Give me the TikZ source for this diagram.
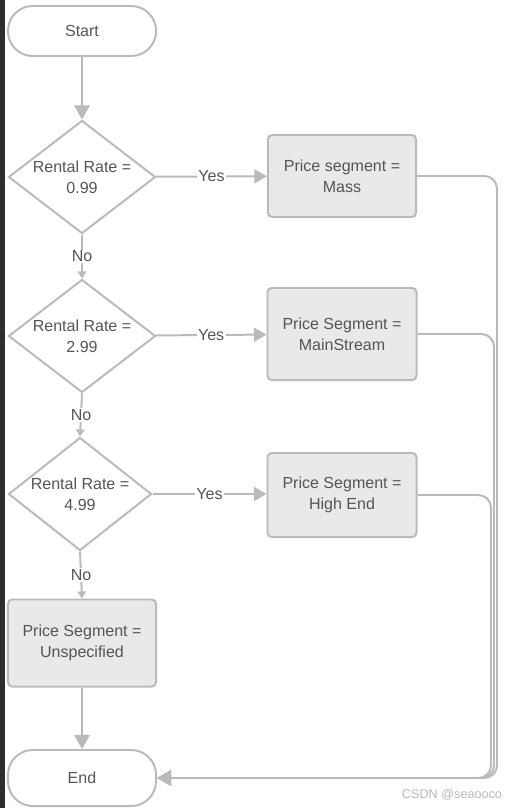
\documentclass[tikz,border=0pt]{standalone}
\usepackage{fontspec}
\setmainfont{Liberation Sans}
\usetikzlibrary{shapes.geometric,arrows.meta,positioning}

\begin{document}
\begin{tikzpicture}[x=0.025cm,y=-0.025cm,
    font=\fontsize{11.4}{15}\selectfont,
    line/.style={draw=lineGray,line width=1.4pt},
    terminal/.style={line,rounded corners=0.62cm,fill=white,minimum width=3.7cm,text=textGray},
    decision/.style={line,diamond,aspect=1.3,inner sep=0pt,minimum width=3.675cm,minimum height=2.825cm,align=center,text=textGray,fill=white},
    process/.style={line,rounded corners=3pt,fill=boxGray,minimum width=3.7cm,align=center,text=textGray},
    flow/.style={line,-{Triangle[width=11pt,length=10pt]}},
    yesflow/.style={line,-{Triangle[width=10pt,length=9pt]}},
    noflow/.style={line,-{Triangle[width=6pt,length=5pt]}},
    answer/.style={fill=white,inner sep=1pt,text=textGray}]
    \definecolor{lineGray}{RGB}{186,186,186}
    \definecolor{boxGray}{RGB}{233,233,233}
    \definecolor{textGray}{RGB}{85,85,85}
    \definecolor{edgeDark}{RGB}{46,46,46}
    \useasboundingbox (0,0) rectangle (513,808);
    \fill[white] (0,0) rectangle (513,808);
    \fill[edgeDark] (0,0) rectangle (5,808);

    \node[terminal,minimum height=1.25cm] (start) at (82,31) {Start};
    \node[decision] (rate_a) at (82,177) {Rental Rate =\\0.99};
    \node[decision] (rate_b) at (82,336) {Rental Rate =\\2.99};
    \node[decision,minimum width=3.575cm] (rate_c) at (80,494) {Rental Rate =\\4.99};
    \node[process,minimum height=2.05cm] (seg_mass) at (342,176) {Price segment =\\Mass};
    \node[process,minimum width=3.725cm,minimum height=2.3cm] (seg_main) at (342,334) {Price Segment =\\MainStream};
    \node[process,minimum width=3.725cm,minimum height=2.1cm] (seg_high) at (342,495) {Price Segment =\\High End};
    \node[process,minimum height=2.175cm] (seg_none) at (82,643) {Price Segment =\\Unspecified};
    \node[terminal,minimum height=1.4cm] (stop) at (82,778) {End};

    \coordinate (rail_a) at (497,0);
    \coordinate (rail_b) at (494,0);
    \coordinate (rail_c) at (491,0);

    \draw[flow] (start) -- (rate_a);
    \draw[yesflow] (rate_a) -- node[answer] {Yes} (seg_mass);
    \draw[yesflow] (rate_b) -- node[answer] {Yes} (seg_main);
    \draw[yesflow] (rate_c.east) -- node[answer] {Yes} (seg_high.west |- rate_c.east);
    \draw[noflow] (rate_a) -- node[answer] {No} (rate_b);
    \draw[noflow] (rate_b.south) -- node[answer] {No} (rate_c.north);
    \draw[noflow] (rate_c.south) -- node[answer] {No} (seg_none.north);
    \draw[flow] (seg_none) -- (stop);

    % return lines to End
    \draw[flow,rounded corners=9pt] (seg_mass.east) -- (seg_mass.east -| rail_a) -- (stop.east -| rail_a) -- (stop.east);
    \draw[flow,rounded corners=9pt] (seg_main.east) -- (seg_main.east -| rail_b) -- (stop.east -| rail_b) -- (stop.east);
    \draw[flow,rounded corners=9pt] (seg_high.east) -- (seg_high.east -| rail_c) -- (stop.east -| rail_c) -- (stop.east);

    \node[text=lineGray,font=\fontsize{9}{11}\selectfont] (mark) at (452,795) {CSDN @seaooco};
\end{tikzpicture}
\end{document}
